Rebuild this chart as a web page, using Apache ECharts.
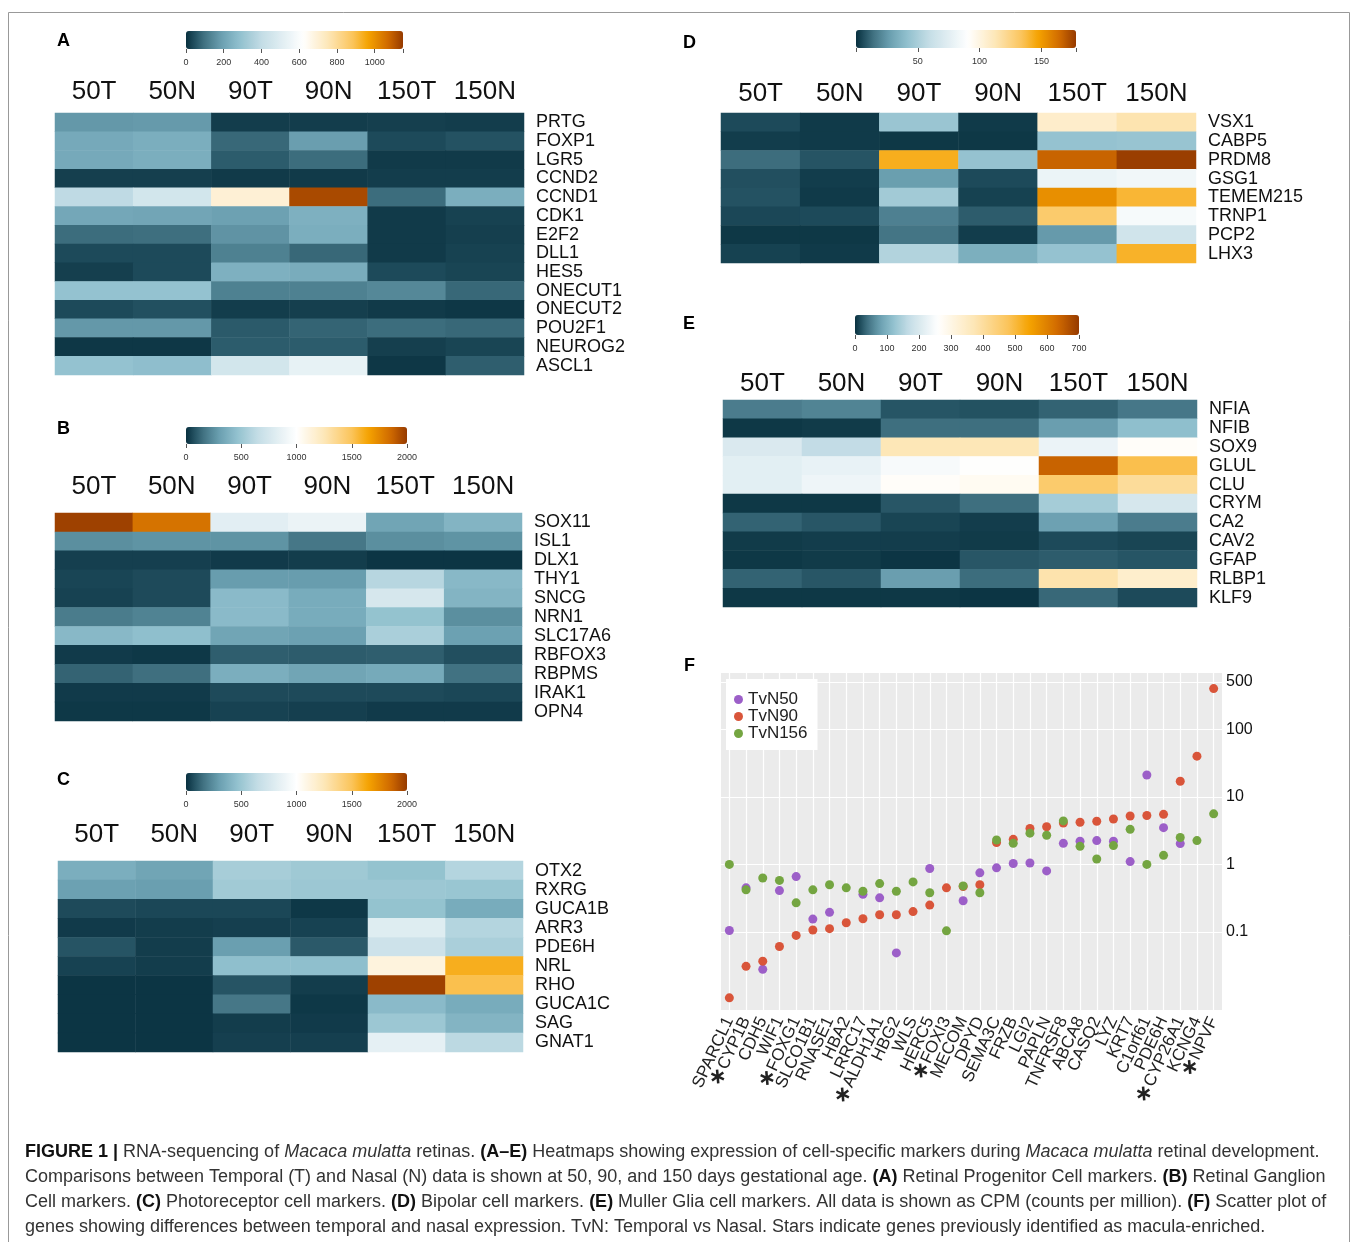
<!DOCTYPE html>
<html><head><meta charset="utf-8">
<script src="https://cdn.jsdelivr.net/npm/echarts@6/dist/echarts.min.js"></script>
<style>html,body{margin:0;padding:0;background:#fff}#c{width:1358px;height:1242px}</style>
</head><body><div id="c"></div>
<script>
// ---------------- DATA ----------------
const columns = ['50T','50N','90T','90N','150T','150N'];

const genesA = ['PRTG','FOXP1','LGR5','CCND2','CCND1','CDK1','E2F2','DLL1','HES5','ONECUT1','ONECUT2','POU2F1','NEUROG2','ASCL1'];
const valuesA = [
  [172,177,19,19,22,19],
  [217,230,82,186,37,48],
  [217,230,63,89,15,15],
  [22,22,15,15,19,19],
  [391,458,700,1124,89,230],
  [211,205,193,236,15,26],
  [89,93,163,230,15,22],
  [37,37,126,82,15,26],
  [22,37,236,224,37,30],
  [292,292,126,126,140,82],
  [37,45,19,22,15,11],
  [172,172,60,75,89,82],
  [11,11,63,63,22,30],
  [292,279,458,534,11,67]
];
const scaleMaxA = 1150, scaleTicksA = 200;

const genesB = ['SOX11','ISL1','DLX1','THY1','SNCG','NRN1','SLC17A6','RBFOX3','RBPMS','IRAK1','OPN4'];
const valuesB = [
  [1980,1820,825,878,330,400],
  [248,263,263,173,248,263],
  [36,36,24,30,12,12],
  [48,60,293,293,600,420],
  [42,60,430,360,755,400],
  [188,210,430,360,470,248],
  [420,450,330,310,550,310],
  [24,18,108,102,108,72],
  [120,150,370,330,350,158],
  [24,24,60,60,60,54],
  [18,18,42,36,24,24]
];
const scaleMaxB = 2000, scaleTicksB = 500;

const genesC = ['OTX2','RXRG','GUCA1B','ARR3','PDE6H','NRL','RHO','GUCA1C','SAG','GNAT1'];
const valuesC = [
  [370,330,540,510,470,590],
  [310,300,520,500,500,490],
  [60,54,54,18,470,360],
  [24,30,36,42,808,590],
  [84,30,300,96,703,550],
  [42,30,450,450,1120,1600],
  [12,12,84,30,1980,1520],
  [12,12,173,18,430,360],
  [12,12,30,24,500,400],
  [12,12,36,36,843,620]
];
const scaleMaxC = 2000, scaleTicksC = 500;

const genesD = ['VSX1','CABP5','PRDM8','GSG1','TEMEM215','TRNP1','PCP2','LHX3'];
const valuesD = [
  [5.5,2.2,44.6,2.2,106.7,114.5],
  [2.7,2.2,1.6,1.6,42.8,43.7],
  [13.1,7.6,143.2,42.8,166.7,177],
  [6.6,2.7,27.3,5.5,79.9,83],
  [7.1,2.2,47.3,3.8,153.6,139.7],
  [4.9,5.5,18.4,9.3,130.2,86.2],
  [1.6,1.6,15,2.7,25.9,65.5],
  [3.8,2.2,52.8,33.7,42.8,141.5]
];
const scaleMaxD = 178, scaleTicksD = 50;

const genesE = ['NFIA','NFIB','SOX9','GLUL','CLU','CRYM','CA2','CAV2','GFAP','RLBP1','KLF9'];
const valuesE = [
  [49,55,22,20,31,45],
  [4.7,6.2,39,39,78,117],
  [201,169,370,370,228,269],
  [214.5,224,246,260,643,489],
  [214.5,233,269,278,458,405],
  [4.7,4.7,23,39,138,196],
  [31,23,12.5,7.8,81,49],
  [6.2,7.8,7.8,6.2,15.6,12.5],
  [4.7,6.2,3.1,23,26.5,22],
  [31,23,78,37,383,339],
  [4.7,4.7,4.7,3.1,34,15.6]
];
const scaleMaxE = 700, scaleTicksE = 100;

const genesF = ['SPARCL1','CYP1B','CDH5','WIF1','FOXG1','SLCO1B1','RNASE1','HBA2','LRRC17','ALDH1A1','HBG2','WLS','HERC5','FOXI3','MECOM','DPYD','SEMA3C','FRZB','LGI2','PAPLN','TNFRSF8','ABCA8','CASQ2','LYZ','KRT7','C1orf61','PDE6H','CYP26A1','KCNG4','NPVF'];
const starredF = ['CYP1B','FOXG1','ALDH1A1','FOXI3','CYP26A1','NPVF'];
const tvn50 = [0.105,0.45,0.028,0.41,0.66,0.155,0.195,null,0.36,0.32,0.049,null,0.87,null,0.29,0.75,0.89,1.03,1.05,0.80,2.05,2.2,2.25,2.2,1.1,21,3.5,2.03,null,null];
const tvn90 = [0.0106,0.031,0.037,0.061,0.089,0.107,0.112,0.137,0.157,0.18,0.18,0.2,0.25,0.45,0.47,0.5,2.1,2.35,3.4,3.6,4.1,4.2,4.35,4.7,5.2,5.3,5.5,17,40,400];
const tvn156 = [1.0,0.42,0.63,0.58,0.27,0.42,0.50,0.45,0.40,0.52,0.40,0.55,0.38,0.104,0.48,0.38,2.3,2.05,2.9,2.7,4.4,1.85,1.2,1.9,3.3,1.0,1.36,2.5,2.25,5.6];
const yBreaksF = [0.1,1,10,100,500];
const yRangeF = [0.007, 680];

// ---------------- STYLE / LAYOUT ----------------
const FONT = "'Liberation Sans', Arial, sans-serif";
const blueStops = [[0,'#08303e'],[0.06,'#1d4a5a'],[0.15,'#3f7080'],[0.3,'#6a9fb0'],[0.45,'#8fbfcd'],[0.65,'#c4dde6'],[1,'#ffffff']];
const warmStops = [[0,'#ffffff'],[0.25,'#fde7b8'],[0.5,'#fbc45a'],[0.65,'#f5a300'],[0.85,'#d06a00'],[1,'#963a00']];
function hex(c){return [parseInt(c.slice(1,3),16),parseInt(c.slice(3,5),16),parseInt(c.slice(5,7),16)];}
function ramp(w, n){
  const stops = blueStops.map(([p,c])=>[p*w,c]).concat(warmStops.slice(1).map(([p,c])=>[w+p*(1-w),c]));
  const out=[];
  for(let i=0;i<n;i++){
    const t=i/(n-1); let k=0;
    while(k<stops.length-2 && t>stops[k+1][0]) k++;
    const [p0,c0]=stops[k],[p1,c1]=stops[k+1];
    const f=Math.max(0,Math.min(1,(t-p0)/(p1-p0)));
    const a=hex(c0),b=hex(c1);
    out.push('rgb('+a.map((x,j)=>Math.round(x+(b[j]-x)*f)).join(',')+')');
  }
  return out;
}

const panels = [
  {genes:genesA, values:valuesA, max:scaleMaxA, step:scaleTicksA, white:0.54, grid:{left:55,top:113,width:469,height:262}, bar:{left:186,top:31,length:217,thick:18}, colMargin:8},
  {genes:genesB, values:valuesB, max:scaleMaxB, step:scaleTicksB, white:0.5, grid:{left:55,top:513,width:467,height:208}, bar:{left:186,top:427,length:221,thick:17}, colMargin:13},
  {genes:genesC, values:valuesC, max:scaleMaxC, step:scaleTicksC, white:0.5, grid:{left:58,top:861,width:465,height:191}, bar:{left:186,top:773,length:221,thick:18}, colMargin:13},
  {genes:genesD, values:valuesD, max:scaleMaxD, step:scaleTicksD, white:0.51, grid:{left:721,top:113,width:475,height:150}, bar:{left:856,top:30,length:220,thick:18}, colMargin:6, hideZero:true},
  {genes:genesE, values:valuesE, max:scaleMaxE, step:scaleTicksE, white:0.37, grid:{left:723,top:400,width:474,height:207}, bar:{left:855,top:315,length:224,thick:20}, colMargin:3}
];

const grid=[], xAxis=[], yAxis=[], series=[], visualMap=[];
panels.forEach((p,i)=>{
  grid.push(Object.assign({outerBoundsMode:'none'}, p.grid));
  xAxis.push({type:'category', gridIndex:i, data:columns, position:'top', axisLine:{show:false}, axisTick:{show:false}, splitLine:{show:false},
    axisLabel:{interval:0, hideOverlap:false, fontSize:26, color:'#111', margin:p.colMargin, fontFamily:FONT}});
  yAxis.push({type:'category', gridIndex:i, data:p.genes, inverse:true, position:'right', axisLine:{show:false}, axisTick:{show:false}, splitLine:{show:false},
    axisLabel:{interval:0, hideOverlap:false, fontSize:18, color:'#111', margin:12, fontFamily:FONT}});
  const data=[];
  p.values.forEach((row,r)=>row.forEach((v,c)=>data.push([c,r,v])));
  series.push({type:'heatmap', xAxisIndex:i, yAxisIndex:i, data, emphasis:{disabled:true}, itemStyle:{borderWidth:0}});
  visualMap.push({type:'continuous', seriesIndex:i, min:0, max:p.max, orient:'horizontal', left:p.bar.left, top:p.bar.top,
    itemWidth:p.bar.thick, itemHeight:p.bar.length, calculable:false, padding:0, hoverLink:false, inRange:{color:ramp(p.white,61)}});
});
panels.forEach((p,i)=>{
  const gi = panels.length + i;
  grid.push({outerBoundsMode:'none', left:p.bar.left, top:p.bar.top, width:p.bar.length, height:p.bar.thick});
  xAxis.push({type:'value', gridIndex:gi, min:0, max:p.max, interval:p.step, position:'bottom',
    axisLine:{show:false}, axisTick:{show:true, length:4, lineStyle:{color:'#555'}}, splitLine:{show:false},
    axisLabel:{fontSize:9, color:'#333', margin:9, fontFamily:FONT,
      formatter: v => (Math.abs(v % p.step) < 1e-9 && !(p.hideZero && v===0)) ? String(v) : ''}});
  yAxis.push({type:'value', gridIndex:gi, show:false});
});

// Panel F
const fi = panels.length*2;
grid.push({outerBoundsMode:'none', left:721, top:673, width:501, height:337, show:true, backgroundColor:'#ebebeb', borderWidth:0});
xAxis.push({type:'category', gridIndex:fi, data:genesF, boundaryGap:true, axisLine:{show:false}, axisTick:{show:false}, splitLine:{show:false},
  axisLabel:{interval:0, hideOverlap:false, rotate:65, fontSize:17, color:'#222', margin:8, fontFamily:FONT,
    formatter: v => starredF.includes(v) ? '{s|\u2217}' + v : v,
    rich:{s:{fontSize:22, fontWeight:'bold', fontFamily:'DejaVu Sans', color:'#222'}}}});
yAxis.push({type:'log', gridIndex:fi, logBase:10, min:yRangeF[0], max:yRangeF[1], position:'right',
  axisLine:{show:false}, axisTick:{show:false}, axisLabel:{show:false}, splitLine:{show:false}});
series.push({type:'line', name:'gridlines', xAxisIndex:fi, yAxisIndex:fi, data:[], z:1, silent:true,
  markLine:{z:1, silent:true, symbol:'none', animation:false, lineStyle:{color:'#ffffff', width:1.2, type:'solid'}, label:{show:false},
    emphasis:{disabled:true},
    data: genesF.map(g=>({xAxis:g})).concat(yBreaksF.map(v=>({yAxis:v,
      label:{show:true, position:'end', formatter:String(v), fontSize:16, color:'#111', distance:4, fontFamily:FONT}})))}});
[['TvN50',tvn50,'#9c5fc8'],['TvN90',tvn90,'#d9553a'],['TvN156',tvn156,'#74a541']].forEach(([name,vals,col])=>{
  series.push({type:'scatter', name, xAxisIndex:fi, yAxisIndex:fi, z:3, symbolSize:9,
    data: genesF.map((g,k)=> vals[k]==null ? null : [g, vals[k]]).filter(d=>d),
    itemStyle:{color:col, opacity:1, borderWidth:0}, emphasis:{disabled:true}});
});

const CAP = 18;
const captionRich = {
  b:{fontSize:CAP, fontFamily:FONT, fontWeight:'bold', fill:'#111'},
  i:{fontSize:CAP, fontFamily:FONT, fontStyle:'italic', fill:'#333'}
};
const captionLines = [
  '{b|FIGURE 1 |} RNA-sequencing of {i|Macaca mulatta} retinas. {b|(A\u2013E)} Heatmaps showing expression of cell-specific markers during {i|Macaca mulatta} retinal development.',
  'Comparisons between Temporal (T) and Nasal (N) data is shown at 50, 90, and 150 days gestational age. {b|(A)} Retinal Progenitor Cell markers. {b|(B)} Retinal Ganglion',
  'Cell markers. {b|(C)} Photoreceptor cell markers. {b|(D)} Bipolar cell markers. {b|(E)} Muller Glia cell markers. All data is shown as CPM (counts per million). {b|(F)} Scatter plot of',
  'genes showing differences between temporal and nasal expression. TvN: Temporal vs Nasal. Stars indicate genes previously identified as macula-enriched.'
];

const graphic = [{type:'rect', silent:true, z:-10, shape:{x:8.5,y:12.5,width:1341,height:1240}, style:{fill:'none', stroke:'#999', lineWidth:1}}]
  .concat(captionLines.map((t,i)=>({type:'text', left:25, top:1143 + i*25, silent:true,
    style:{text:t, fontSize:CAP, fontFamily:FONT, fill:'#333', rich:captionRich}})));

const option = {
  animation:false,
  backgroundColor:'#ffffff',
  title: [['A',57,32],['B',57,420],['C',57,771],['D',683,34],['E',683,315],['F',684,657]].map(([t,l,tp])=>({
    text:t, left:l, top:tp, padding:0, textStyle:{fontSize:18, fontWeight:'bold', color:'#000', fontFamily:FONT}})),
  legend:{data:['TvN50','TvN90','TvN156'], orient:'vertical', left:726, top:679, backgroundColor:'#fff', z:6,
    padding:[12,10,8,8], itemGap:0, itemWidth:9, itemHeight:9, icon:'circle', selectedMode:false,
    textStyle:{fontSize:17, color:'#222', fontFamily:FONT, lineHeight:16}},
  grid, xAxis, yAxis, visualMap, series, graphic
};
const chart = echarts.init(document.getElementById('c'), null, {renderer:'canvas'});
chart.setOption(option);
</script></body></html>
